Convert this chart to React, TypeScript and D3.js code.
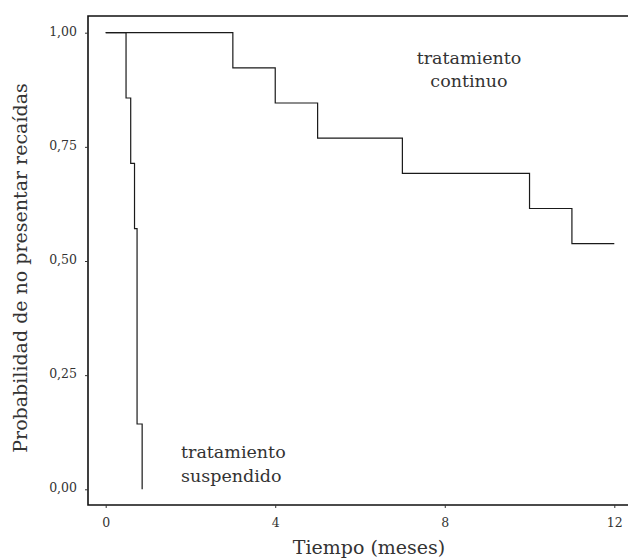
import React, { useEffect, useRef } from "react";
import * as d3 from "d3";

// Kaplan-Meier estimates
const continuoTimes = [0, 3, 4, 5, 7, 10, 11, 12];
const continuoSurv = [1, 0.923, 0.846, 0.769, 0.692, 0.615, 0.538, 0.538];

const suspendidoTimes = [0, 0.48, 0.59, 0.68, 0.74, 0.86];
const suspendidoSurv = [1, 0.857, 0.714, 0.571, 0.143, 0];

const xTicks = [0, 4, 8, 12];
const yTicks = [0, 0.25, 0.5, 0.75, 1];

const W = 628;
const H = 558;
const FONT = "'DejaVu Serif', serif";
const TEXT = "#333";

const es = d3.formatLocale({
  decimal: ",",
  thousands: ".",
  grouping: [3],
  currency: ["", " €"],
});

export default function App() {
  const svgRef = useRef<SVGSVGElement>(null);

  useEffect(() => {
    const svg = d3.select(svgRef.current);
    svg.selectAll("*").remove();

    const frame = { left: 88, top: 16, bottom: 505 };
    const x = d3.scaleLinear().domain([0, 12]).range([105.7, 614.3]);
    const y = d3.scaleLinear().domain([0, 1]).range([489.3, 32.7]);

    // frame (right side runs off the picture)
    svg
      .append("path")
      .attr(
        "d",
        `M${W + 2},${frame.top}H${frame.left}V${frame.bottom}H${W + 2}`
      )
      .attr("fill", "none")
      .attr("stroke", "#111")
      .attr("stroke-width", 1.6);

    // y axis
    const yAxis = svg
      .append("g")
      .attr("transform", `translate(${frame.left},0)`)
      .call(
        d3
          .axisLeft(y)
          .tickValues(yTicks)
          .tickSize(3)
          .tickPadding(8)
          .tickFormat(es.format(".2f") as any)
      );
    yAxis.select(".domain").remove();
    yAxis.selectAll("line").attr("stroke", "#333");
    yAxis
      .selectAll("text")
      .attr("dy", "0.2em")
      .attr("fill", TEXT)
      .style("font-family", FONT)
      .style("font-size", "12.5px");

    // x axis
    const xAxis = svg
      .append("g")
      .attr("transform", `translate(0,${frame.bottom})`)
      .call(d3.axisBottom(x).tickValues(xTicks).tickSize(3).tickPadding(10));
    xAxis.select(".domain").remove();
    xAxis.selectAll("line").attr("stroke", "#333");
    xAxis
      .selectAll("text")
      .attr("fill", TEXT)
      .style("font-family", FONT)
      .style("font-size", "12.5px");

    // survival curves
    const step = d3
      .line<[number, number]>()
      .x((d) => x(d[0]))
      .y((d) => y(d[1]))
      .curve(d3.curveStepAfter);

    const series = [
      continuoTimes.map((t, i) => [t, continuoSurv[i]] as [number, number]),
      suspendidoTimes.map((t, i) => [t, suspendidoSurv[i]] as [number, number]),
    ];

    svg
      .selectAll("path.km")
      .data(series)
      .join("path")
      .attr("class", "km")
      .attr("d", (d) => step(d))
      .attr("fill", "none")
      .attr("stroke", "#1a1a1a")
      .attr("stroke-width", 1.2);

    // curve labels
    const lab1 = svg
      .append("text")
      .attr("text-anchor", "middle")
      .attr("fill", TEXT)
      .style("font-family", FONT)
      .style("font-size", "17.5px");
    lab1.append("tspan").attr("x", 469).attr("y", 64).text("tratamiento");
    lab1.append("tspan").attr("x", 469).attr("y", 87).text("continuo");

    const lab2 = svg
      .append("text")
      .attr("fill", TEXT)
      .style("font-family", FONT)
      .style("font-size", "17.5px");
    lab2.append("tspan").attr("x", 181).attr("y", 458).text("tratamiento");
    lab2.append("tspan").attr("x", 181).attr("y", 482).text("suspendido");

    // axis titles
    svg
      .append("text")
      .attr("x", 369)
      .attr("y", 554)
      .attr("text-anchor", "middle")
      .attr("fill", TEXT)
      .style("font-family", FONT)
      .style("font-size", "19px")
      .text("Tiempo (meses)");

    svg
      .append("text")
      .attr("transform", `translate(27,268) rotate(-90)`)
      .attr("text-anchor", "middle")
      .attr("fill", TEXT)
      .style("font-family", FONT)
      .style("font-size", "19px")
      .text("Probabilidad de no presentar recaídas");
  }, []);

  return (
    <svg
      ref={svgRef}
      width={W}
      height={H}
      style={{ position: "absolute", left: 0, top: 0, background: "#fff" }}
    ></svg>
  );
}
